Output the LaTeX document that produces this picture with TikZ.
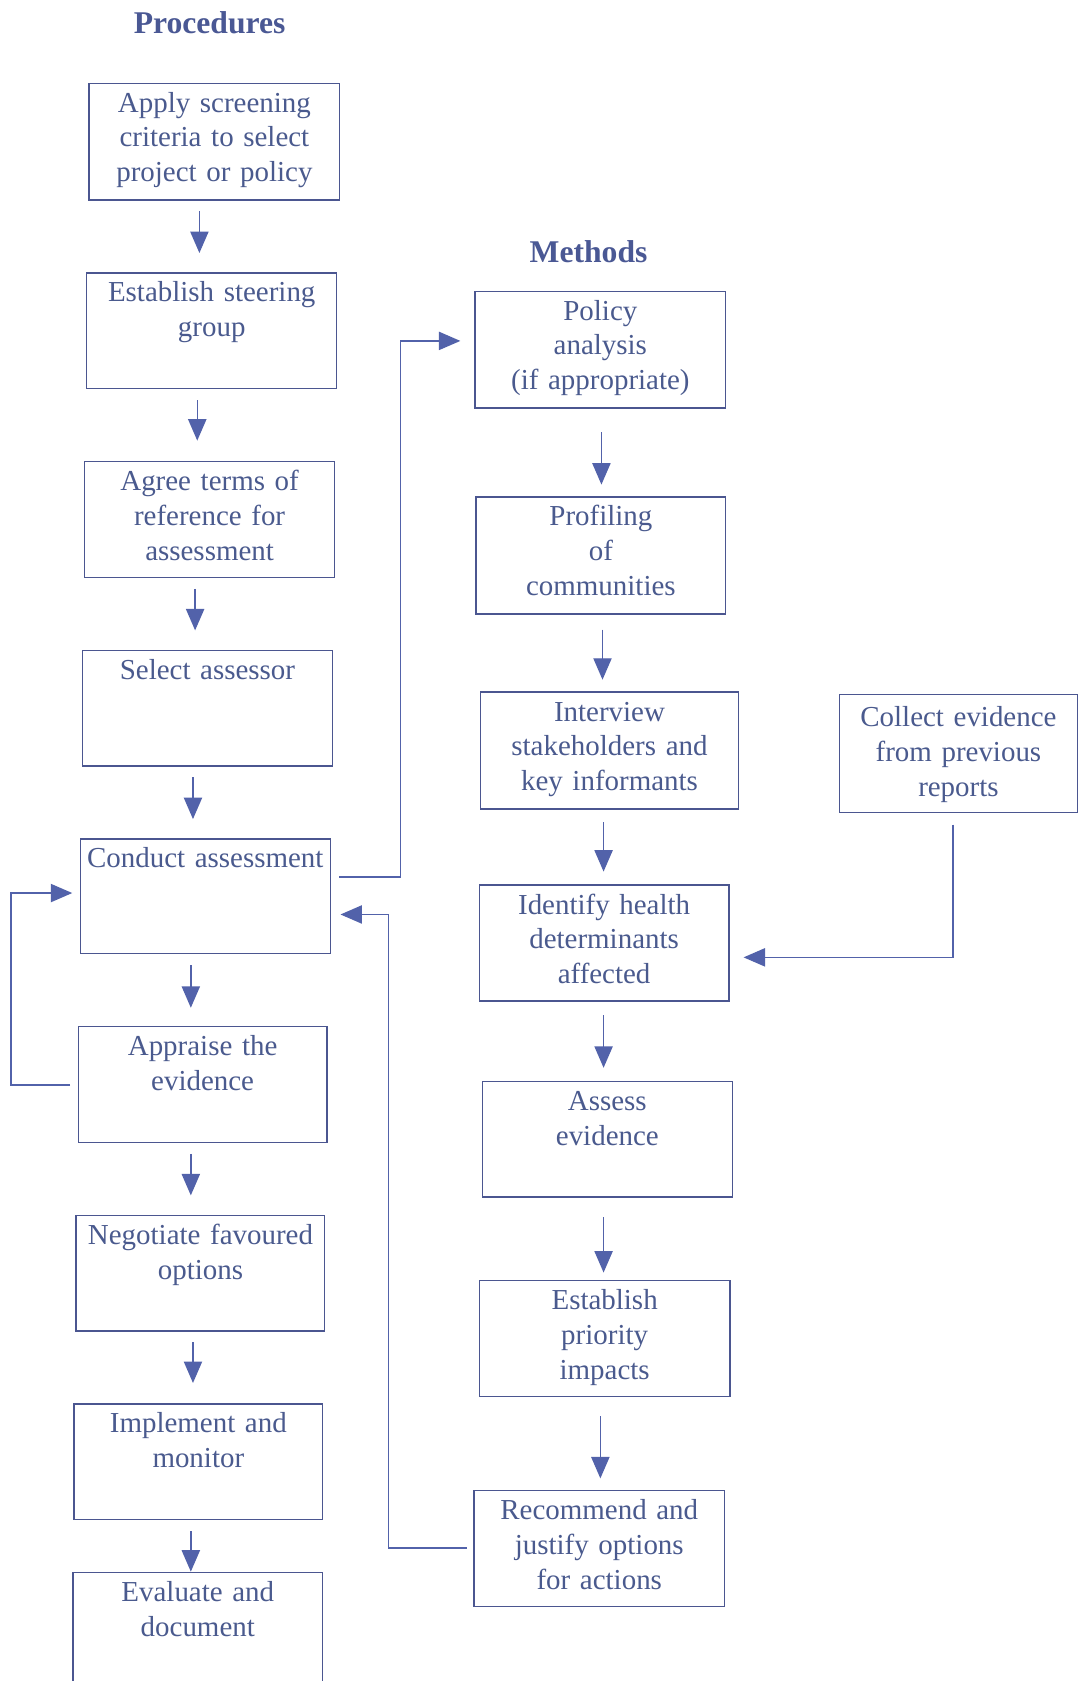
\documentclass[tikz,border=0pt]{standalone}
\usepackage{fontspec}
\setmainfont{Liberation Serif}
\usetikzlibrary{arrows.meta}
\definecolor{inkc}{HTML}{4A5A8E}
\definecolor{linec}{HTML}{4B5690}
\definecolor{arrc}{HTML}{5262AA}
\definecolor{titc}{HTML}{4A5894}
\tikzset{
  box/.style={draw=linec, line width=1.2pt, inner sep=0pt, align=center,
    anchor=north, text=inkc, font={\fontsize{27}{32.5}\selectfont},
    text height=27pt},
  arr/.style={draw=arrc, line width=1.3pt,
    -{Triangle[length=20pt,width=17pt]}},
  ttl/.style={anchor=base, text=titc, font={\fontsize{29.5}{34}\selectfont\bfseries}}
}
\begin{document}
\begin{tikzpicture}[x=1pt,y=-1pt]
\useasboundingbox (0,0) rectangle (1006,1568);
\begin{scope}
\clip (0,0) rectangle (1006,1568);
\fill[white] (0,0) rectangle (1006,1568);

% titles
\node[ttl] (tp) at (195.5,31) {Procedures};
\node[ttl] (tm) at (549,245) {Methods};

% procedures column
\node[box, text width=234pt, text depth=82pt] (b1) at (200,77) {Apply screening\\criteria to select\\project or policy};
\node[box, text width=233pt, text depth=81pt] (b2) at (197.5,254) {Establish steering\\group};
\node[box, text width=233pt, text depth=81pt] (b3) at (195.5,430) {Agree terms of\\reference for\\assessment};
\node[box, text width=233pt, text depth=81pt] (b4) at (193.5,606) {Select assessor};
\node[box, text width=233pt, text depth=80pt] (b5) at (191.5,782) {Conduct assessment};
\node[box, text width=232pt, text depth=81pt] (b6) at (189,957) {Appraise the\\evidence};
\node[box, text width=232pt, text depth=81pt] (b7) at (187,1133) {Negotiate favoured\\options};
\node[box, text width=232pt, text depth=81pt] (b8) at (185,1309) {Implement and\\monitor};
\node[box, text width=233pt, text depth=120pt] (b9) at (184.5,1466) {Evaluate and\\document};

% methods column
\node[box, text width=234pt, text depth=82pt] (m1) at (560,271) {Policy\\analysis\\(if appropriate)};
\node[box, text width=233pt, text depth=82pt] (m2) at (560.5,463) {Profiling\\of\\communities};
\node[box, text width=241pt, text depth=82pt] (m3) at (568.5,645) {Interview\\stakeholders and\\key informants};
\node[box, text width=233pt, text depth=81pt] (m4) at (563.5,825) {Identify health\\determinants\\affected};
\node[box, text width=233pt, text depth=81pt] (m5) at (566.5,1008) {Assess\\evidence};
\node[box, text width=234pt, text depth=81pt] (m6) at (564,1194) {Establish\\priority\\impacts};
\node[box, text width=234pt, text depth=81pt] (m7) at (559,1390) {Recommend and\\justify options\\for actions};
\node[box, text width=222pt, text height=30pt, text depth=80pt] (c1) at (894,647) {Collect evidence\\from previous\\reports};

% procedures arrows
\draw[arr, shorten <=10pt, shorten >=18pt] ([xshift=-14pt]b1.south) -- ([xshift=-11.5pt]b2.north);
\draw[arr, shorten <=10pt, shorten >=19pt] ([xshift=-13.5pt]b2.south) -- ([xshift=-11.5pt]b3.north);
\draw[arr, shorten <=10pt, shorten >=18pt] ([xshift=-13.5pt]b3.south) -- ([xshift=-11.5pt]b4.north);
\draw[arr, shorten <=10pt, shorten >=18pt] ([xshift=-13.5pt]b4.south) -- ([xshift=-11.5pt]b5.north);
\draw[arr, shorten <=10pt, shorten >=17pt] ([xshift=-13.5pt]b5.south) -- ([xshift=-11pt]b6.north);
\draw[arr, shorten <=10pt, shorten >=18pt] ([xshift=-11pt]b6.south) -- ([xshift=-9pt]b7.north);
\draw[arr, shorten <=10pt, shorten >=19pt] ([xshift=-7pt]b7.south) -- ([xshift=-5pt]b8.north);
\draw[arr, shorten <=10pt, shorten >=0pt] ([xshift=-7pt]b8.south) -- ([xshift=-6.5pt]b9.north);

% methods arrows
\draw[arr, shorten <=22pt, shorten >=11pt] ([xshift=1pt]m1.south) -- ([xshift=0.5pt]m2.north);
\draw[arr, shorten <=14pt, shorten >=11pt] ([xshift=1.5pt]m2.south) -- ([xshift=-6.5pt]m3.north);
\draw[arr, shorten <=12pt, shorten >=12pt] ([xshift=-5.5pt]m3.south) -- ([xshift=-0.5pt]m4.north);
\draw[arr, shorten <=13pt, shorten >=12pt] ([xshift=-0.5pt]m4.south) -- ([xshift=-3.5pt]m5.north);
\draw[arr, shorten <=18pt, shorten >=7pt] ([xshift=-3.5pt]m5.south) -- ([xshift=-1pt]m6.north);
\draw[arr, shorten <=18pt, shorten >=11pt] ([xshift=-4pt]m6.south) -- ([xshift=1pt]m7.north);

% elbow connectors
\draw[arr] ([xshift=8pt,yshift=-36pt]b5.north east) -- ++(57,0) |- ([xshift=-13pt,yshift=-47pt]m1.north west);
\draw[arr] ([xshift=-6pt,yshift=-54pt]m7.north west) -- ++(-73,0) |- ([xshift=9pt,yshift=-71pt]b5.north east);
\draw[arr] ([xshift=-7pt,yshift=-55pt]b6.north west) -- ++(-55,0) |- ([xshift=-7pt,yshift=-51pt]b5.north west);
\draw[arr] ([xshift=-5pt,yshift=-11pt]c1.south) |- ([xshift=13pt,yshift=-68pt]m4.north east);
\end{scope}
\end{tikzpicture}
\end{document}
